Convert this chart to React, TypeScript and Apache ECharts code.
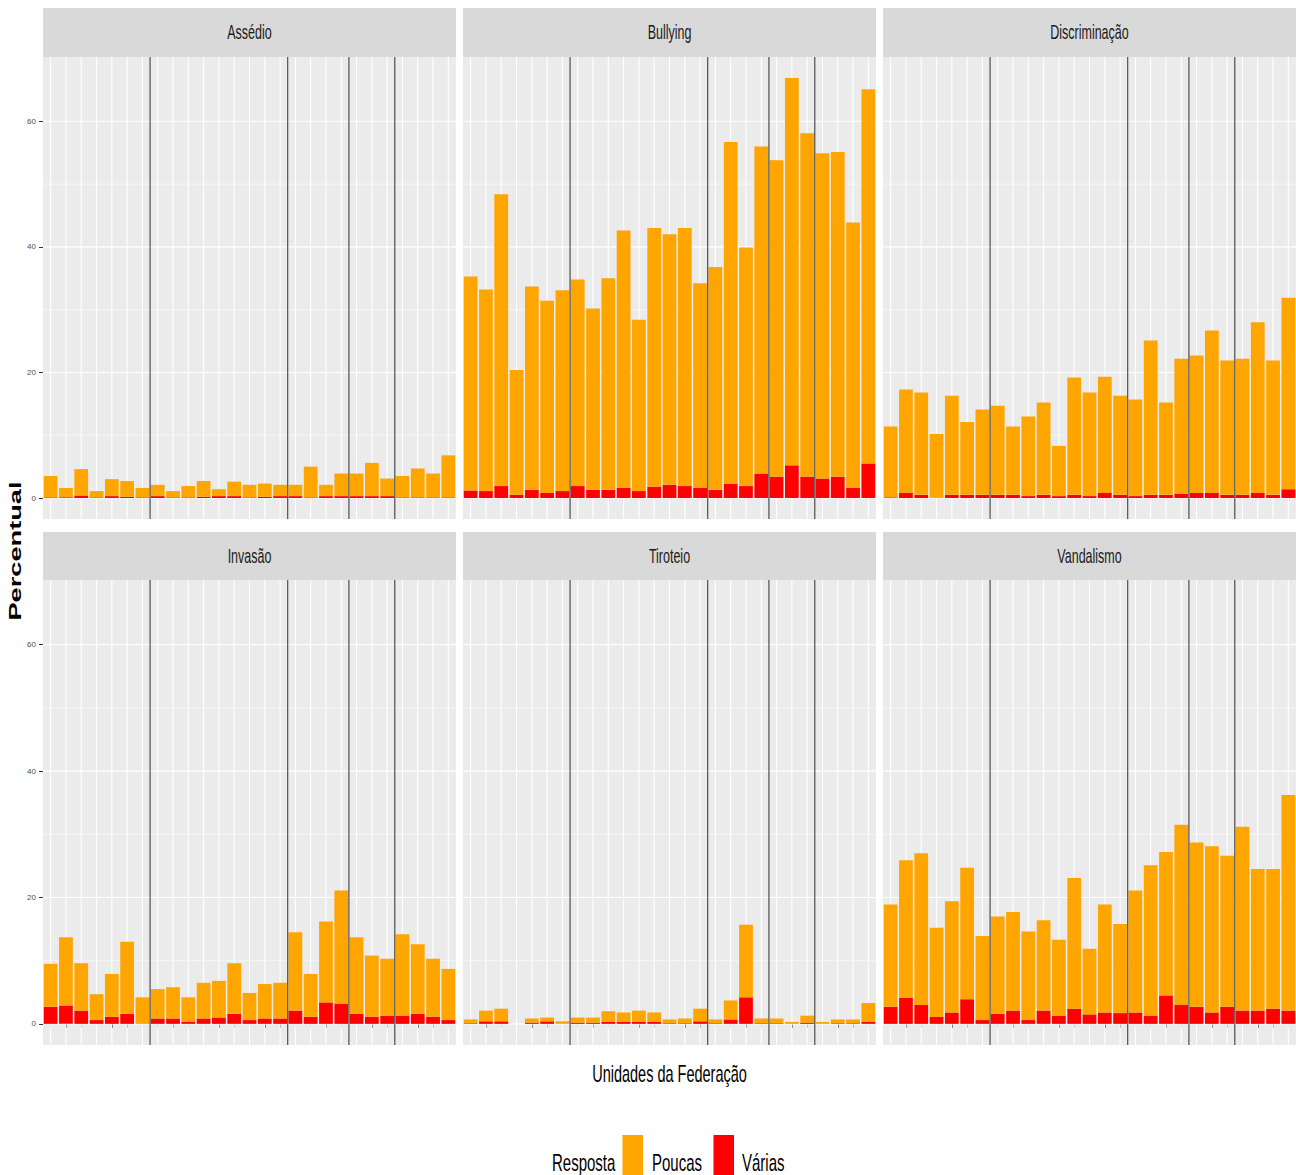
import React, { useEffect, useRef } from "react";
import * as echarts from "echarts";

// ---------------- data ----------------
const NORTE = ["AC", "AM", "AP", "PA", "RO", "RR", "TO"];
const NORDESTE = ["AL", "BA", "CE", "MA", "PB", "PE", "PI", "RN", "SE"];
const CENTRO_OESTE = ["DF", "GO", "MS", "MT"];
const SUL = ["PR", "RS", "SC"];
const SUDESTE = ["ES", "MG", "RJ", "SP"];
const REGIONS = [NORTE, NORDESTE, CENTRO_OESTE, SUL, SUDESTE];
const STATES = REGIONS.flat();

const FACETS = ["Assédio", "Bullying", "Discriminação", "Invasão", "Tiroteio", "Vandalismo"];
const SERIES_POUCAS = "Poucas";
const SERIES_VARIAS = "Várias";
const LEGEND_TITLE = "Resposta";
const X_TITLE = "Unidades da Federação";
const Y_TITLE = "Percentual";

const assedioPoucas = [3.4, 1.5, 4.2, 1.0, 2.7, 2.5, 1.5, 1.8, 1.0, 1.8, 2.5, 1.1, 2.3, 2.0, 2.1, 1.8, 1.8, 4.9, 1.8, 3.6, 3.6, 5.3, 2.8, 3.4, 4.6, 3.8, 6.7];
const assedioVarias = [0.1, 0.1, 0.4, 0.1, 0.3, 0.2, 0.1, 0.3, 0.1, 0.1, 0.2, 0.3, 0.3, 0.1, 0.2, 0.3, 0.3, 0.1, 0.3, 0.3, 0.3, 0.3, 0.3, 0.1, 0.1, 0.1, 0.1];

const bullyingPoucas = [34.1, 32.1, 46.5, 19.9, 32.4, 30.6, 32.0, 32.9, 28.9, 33.7, 41.0, 27.3, 41.2, 39.9, 41.1, 32.6, 35.5, 54.4, 38.0, 52.1, 50.4, 61.7, 54.7, 51.8, 51.7, 42.3, 59.6];
const bullyingVarias = [1.2, 1.1, 1.9, 0.5, 1.3, 0.8, 1.1, 1.9, 1.3, 1.3, 1.6, 1.1, 1.8, 2.1, 1.9, 1.6, 1.3, 2.3, 1.9, 3.9, 3.4, 5.2, 3.4, 3.1, 3.4, 1.6, 5.5];

const discriminacaoPoucas = [11.3, 16.5, 16.3, 10.15, 15.8, 11.6, 13.6, 14.2, 10.9, 12.7, 14.7, 8.0, 18.7, 16.5, 18.5, 15.8, 15.4, 24.6, 14.7, 21.5, 21.9, 25.9, 21.4, 21.7, 27.2, 21.4, 30.5];
const discriminacaoVarias = [0.1, 0.8, 0.5, 0.05, 0.5, 0.5, 0.5, 0.5, 0.5, 0.3, 0.5, 0.3, 0.5, 0.3, 0.8, 0.5, 0.3, 0.5, 0.5, 0.7, 0.8, 0.8, 0.5, 0.5, 0.8, 0.5, 1.4];

const invasaoPoucas = [6.8, 10.8, 7.5, 4.1, 6.8, 11.4, 4.15, 4.65, 4.95, 3.9, 5.65, 5.8, 8.0, 4.3, 5.45, 5.65, 12.4, 6.8, 12.8, 17.9, 12.1, 9.7, 9.0, 12.9, 11.0, 9.2, 8.1];
const invasaoVarias = [2.7, 2.9, 2.1, 0.6, 1.1, 1.6, 0.05, 0.85, 0.85, 0.3, 0.85, 1.0, 1.6, 0.6, 0.85, 0.85, 2.1, 1.1, 3.4, 3.2, 1.6, 1.1, 1.3, 1.3, 1.6, 1.1, 0.6];

const tiroteioPoucas = [0.6, 1.7, 2.0, 0, 0.65, 0.6, 0.4, 0.8, 0.8, 1.7, 1.5, 1.8, 1.5, 0.6, 0.75, 2.0, 0.6, 3.0, 11.5, 0.75, 0.75, 0.3, 1.1, 0.3, 0.6, 0.6, 3.0];
const tiroteioVarias = [0.1, 0.4, 0.4, 0, 0.2, 0.4, 0, 0.2, 0.2, 0.3, 0.3, 0.3, 0.3, 0.1, 0.1, 0.4, 0.1, 0.7, 4.2, 0.1, 0.1, 0, 0.2, 0, 0.1, 0.1, 0.3];

const vandalismoPoucas = [16.2, 21.8, 24.0, 14.1, 17.6, 20.8, 13.3, 15.4, 15.6, 14.0, 14.3, 12.0, 20.7, 10.4, 17.1, 14.1, 19.3, 23.8, 22.7, 28.5, 26.0, 26.3, 23.9, 29.1, 22.4, 22.1, 34.1];
const vandalismoVarias = [2.7, 4.1, 3.0, 1.1, 1.8, 3.9, 0.6, 1.6, 2.1, 0.6, 2.1, 1.3, 2.4, 1.5, 1.8, 1.7, 1.8, 1.3, 4.5, 3.0, 2.7, 1.8, 2.7, 2.1, 2.1, 2.4, 2.1];

const POUCAS = [assedioPoucas, bullyingPoucas, discriminacaoPoucas, invasaoPoucas, tiroteioPoucas, vandalismoPoucas];
const VARIAS = [assedioVarias, bullyingVarias, discriminacaoVarias, invasaoVarias, tiroteioVarias, vandalismoVarias];

const Y_TICKS = [0, 20, 40, 60];
const Y_MINOR = [10, 30, 50];

// ---------------- layout / style ----------------
const W = 1296;
const H = 1175;
const COL_LEFT = [43, 463, 883];
const PANEL_W = 413;
const ROW_TOP = [57, 580];
const PANEL_H = [462, 465];
const STRIP_TOP = [8, 532];
const STRIP_H = [49, 48];

const ORANGE = "#FFA500";
const RED = "#FF0000";
const PANEL_BG = "#EBEBEB";
const STRIP_BG = "#D9D9D9";
const FONT = "'Liberation Sans', Arial, Helvetica, sans-serif";
const STRETCH = 1.6;

export default function App() {
  const ref = useRef<HTMLDivElement>(null);

  useEffect(() => {
    if (!ref.current) return;
    const chart = echarts.init(ref.current, null, { renderer: "svg" });

    // y range like ggplot: 5% expansion of [0, max stacked total]
    let maxTotal = 0;
    POUCAS.forEach((p, k) =>
      p.forEach((v, i) => {
        maxTotal = Math.max(maxTotal, v + VARIAS[k][i]);
      })
    );
    const pad = maxTotal * 0.05;
    const yLo = -pad;
    const yHi = maxTotal + pad;

    // region boundaries (after cumulative counts)
    const breaks: number[] = [];
    let acc = 0;
    REGIONS.slice(0, -1).forEach((r) => {
      acc += r.length;
      breaks.push(acc);
    });

    const grids: any[] = [];
    const xAxes: any[] = [];
    const yAxes: any[] = [];
    const series: any[] = [];
    const elements: any[] = [];

    FACETS.forEach((facet, k) => {
      const r = Math.floor(k / 3);
      const c = k % 3;
      grids.push({
        left: COL_LEFT[c],
        top: ROW_TOP[r],
        width: PANEL_W,
        height: PANEL_H[r],
        show: true,
        backgroundColor: PANEL_BG,
        borderWidth: 0,
      });
      xAxes.push({
        gridIndex: k,
        type: "category",
        data: STATES,
        boundaryGap: true,
        axisLine: { show: false },
        splitLine: { show: false },
        axisLabel: { show: false },
        axisTick: {
          show: r === 1,
          alignWithLabel: true,
          interval: 0,
          length: 4,
          lineStyle: { color: "#333333", width: 1 },
        },
      });
      yAxes.push({
        gridIndex: k,
        type: "value",
        min: yLo,
        max: yHi,
        axisLine: { show: false },
        splitLine: { show: false },
        minorSplitLine: { show: false },
        axisTick: {
          show: c === 0,
          customValues: Y_TICKS,
          length: 4,
          lineStyle: { color: "#333333", width: 1 },
        },
        axisLabel: {
          show: c === 0,
          customValues: Y_TICKS,
          fontSize: 8,
          color: "#4D4D4D",
          margin: 7,
          fontFamily: FONT,
        },
      });

      // horizontal grid lines (under bars)
      series.push({
        type: "custom",
        name: "hgrid" + k,
        xAxisIndex: k,
        yAxisIndex: k,
        silent: true,
        z: 1,
        data: [...Y_TICKS, ...Y_MINOR].map((v) => [0, v]),
        renderItem: (params: any, api: any) => {
          const cs = params.coordSys;
          const v = api.value(1);
          const y = api.coord([0, v])[1];
          const major = Y_TICKS.indexOf(v) >= 0;
          return {
            type: "line",
            shape: { x1: cs.x, y1: y, x2: cs.x + cs.width, y2: y },
            style: { stroke: "#FFFFFF", lineWidth: major ? 1.1 : 0.55 },
          };
        },
      });
      // vertical grid lines at categories
      series.push({
        type: "custom",
        name: "vgrid" + k,
        xAxisIndex: k,
        yAxisIndex: k,
        silent: true,
        z: 1,
        data: STATES.map((_, i) => [i, 0]),
        renderItem: (params: any, api: any) => {
          const cs = params.coordSys;
          const x = api.coord([api.value(0), 0])[0];
          return {
            type: "line",
            shape: { x1: x, y1: cs.y, x2: x, y2: cs.y + cs.height },
            style: { stroke: "#FFFFFF", lineWidth: 1.1 },
          };
        },
      });

      series.push({
        type: "bar",
        name: SERIES_VARIAS,
        xAxisIndex: k,
        yAxisIndex: k,
        stack: "s" + k,
        barWidth: "90%",
        z: 3,
        silent: true,
        itemStyle: { color: RED },
        data: VARIAS[k],
      });
      series.push({
        type: "bar",
        name: SERIES_POUCAS,
        xAxisIndex: k,
        yAxisIndex: k,
        stack: "s" + k,
        barWidth: "90%",
        z: 3,
        silent: true,
        itemStyle: { color: ORANGE },
        data: POUCAS[k],
      });

      // region separators (over bars)
      series.push({
        type: "custom",
        name: "regions" + k,
        xAxisIndex: k,
        yAxisIndex: k,
        silent: true,
        z: 5,
        data: breaks.map((b) => [b, 0]),
        renderItem: (params: any, api: any) => {
          const cs = params.coordSys;
          const b = api.value(0);
          const x = (api.coord([b - 1, 0])[0] + api.coord([b, 0])[0]) / 2;
          return {
            type: "line",
            shape: { x1: x, y1: cs.y, x2: x, y2: cs.y + cs.height },
            style: { stroke: "#1A1A1A", lineWidth: 0.9 },
          };
        },
      });

      // strip
      elements.push({
        type: "rect",
        shape: { x: COL_LEFT[c], y: STRIP_TOP[r], width: PANEL_W, height: STRIP_H[r] },
        style: { fill: STRIP_BG },
        silent: true,
      });
      elements.push({
        type: "text",
        x: COL_LEFT[c] + PANEL_W / 2,
        y: STRIP_TOP[r] + STRIP_H[r] / 2,
        scaleY: STRETCH,
        silent: true,
        style: {
          text: facet,
          fill: "#1A1A1A",
          font: `12.5px ${FONT}`,
          align: "center",
          verticalAlign: "middle",
          textAlign: "center",
          textVerticalAlign: "middle",
        },
      });
    });

    // axis titles
    elements.push({
      type: "text",
      x: (COL_LEFT[0] + COL_LEFT[2] + PANEL_W) / 2,
      y: 1074,
      scaleY: STRETCH,
      silent: true,
      style: {
        text: X_TITLE,
        fill: "#000000",
        font: `14.5px ${FONT}`,
        align: "center",
        verticalAlign: "middle",
        textAlign: "center",
        textVerticalAlign: "middle",
      },
    });
    elements.push({
      type: "text",
      x: 15,
      y: (ROW_TOP[0] + ROW_TOP[1] + PANEL_H[1]) / 2,
      rotation: Math.PI / 2,
      scaleX: STRETCH,
      silent: true,
      style: {
        text: Y_TITLE,
        fill: "#000000",
        font: `bold 17px ${FONT}`,
        align: "center",
        verticalAlign: "middle",
        textAlign: "center",
        textVerticalAlign: "middle",
      },
    });

    // legend
    const legendY = 1163;
    const legendItems: any[] = [
      { kind: "text", text: LEGEND_TITLE, x: 552 },
      { kind: "key", color: ORANGE, x: 622.5, w: 20.5 },
      { kind: "text", text: SERIES_POUCAS, x: 652 },
      { kind: "key", color: RED, x: 713.5, w: 20.5 },
      { kind: "text", text: SERIES_VARIAS, x: 742 },
    ];
    legendItems.forEach((it) => {
      if (it.kind === "text") {
        elements.push({
          type: "text",
          x: it.x,
          y: legendY,
          scaleY: STRETCH,
          silent: true,
          style: {
            text: it.text,
            fill: "#000000",
            font: `15px ${FONT}`,
            align: "left",
            verticalAlign: "middle",
            textAlign: "left",
            textVerticalAlign: "middle",
          },
        });
      } else {
        elements.push({
          type: "rect",
          shape: { x: it.x, y: 1135, width: it.w, height: 44 },
          style: { fill: it.color },
          silent: true,
        });
      }
    });

    chart.setOption({
      animation: false,
      backgroundColor: "#FFFFFF",
      textStyle: { fontFamily: FONT },
      grid: grids,
      xAxis: xAxes,
      yAxis: yAxes,
      series,
      graphic: { elements },
    });

    return () => chart.dispose();
  }, []);

  return (
    <div
      ref={ref}
      style={{ position: "absolute", left: 0, top: 0, width: W, height: H }}
    />
  );
}
